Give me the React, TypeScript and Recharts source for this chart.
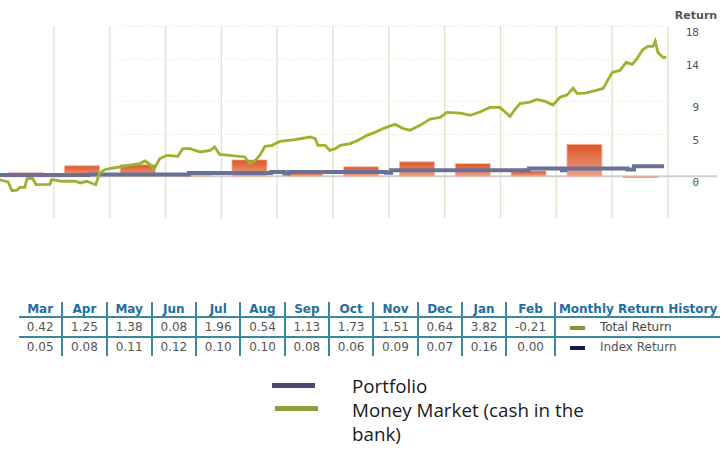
import React from 'react';
import { ComposedChart, Bar, Line, XAxis, YAxis, ReferenceLine, Cell } from 'recharts';

// ---- data -------------------------------------------------------------
const months = ['Mar', 'Apr', 'May', 'Jun', 'Jul', 'Aug', 'Sep', 'Oct', 'Nov', 'Dec', 'Jan', 'Feb'];
const totalReturn = [0.42, 1.25, 1.38, 0.08, 1.96, 0.54, 1.13, 1.73, 1.51, 0.64, 3.82, -0.21];
const indexReturn = [0.05, 0.08, 0.11, 0.12, 0.10, 0.10, 0.08, 0.06, 0.09, 0.07, 0.16, 0.00];
const yTicks = [0, 5, 9, 14, 18];
const dottedLevels = [5, 9, 14, 18];

// green cumulative line: position in months since start, return value
const greenT = [
  0.03, 0.18, 0.25, 0.34, 0.39, 0.48, 0.52, 0.62, 0.68, 0.93, 0.96, 1.05, 1.14, 1.38, 1.47, 1.59, 1.68, 1.75,
  1.82, 1.91, 2.04, 2.18, 2.36, 2.54, 2.63, 2.72, 2.79, 2.90, 3.03, 3.22, 3.31, 3.44, 3.62, 3.80, 3.88, 3.97,
  4.15, 4.42, 4.51, 4.60, 4.69, 4.78, 4.91, 5.05, 5.32, 5.59, 5.68, 5.73, 5.86, 5.94, 6.04, 6.13, 6.31, 6.45,
  6.61, 6.75, 6.93, 7.11, 7.25, 7.38, 7.56, 7.74, 7.92, 8.04, 8.28, 8.46, 8.63, 8.81, 8.99, 9.17, 9.26, 9.35,
  9.53, 9.65, 9.80, 9.94, 10.07, 10.19, 10.30, 10.37, 10.52, 10.73, 10.84, 11.00, 11.14, 11.25, 11.36, 11.44,
  11.55, 11.64, 11.73, 11.77, 11.82, 11.91, 11.97,
];
const greenV = [
  -0.42, -0.68, -1.73, -1.67, -1.32, -1.32, -0.28, -0.24, -0.99, -0.96, -0.39, -0.48, -0.6, -0.6, -0.8, -0.6, -0.84, -1.02,
  0.36, 0.78, 0.96, 1.11, 1.32, 1.52, 1.83, 1.44, 0.84, 2.12, 2.51, 2.39, 3.31, 3.31, 2.91, 3.11, 3.5, 2.63,
  2.51, 2.31, 1.52, 1.83, 2.51, 3.59, 3.71, 4.19, 4.39, 4.7, 4.51, 3.71, 3.71, 3.11, 3.31, 3.71, 3.91, 4.31,
  4.9, 5.26, 5.8, 6.22, 5.74, 5.5, 6.1, 6.85, 7.06, 7.66, 7.57, 7.3, 7.69, 8.25, 8.25, 7.18, 8.01, 8.7,
  8.89, 9.21, 8.97, 8.53, 9.49, 9.72, 10.56, 9.93, 9.96, 10.32, 10.53, 12.44, 12.68, 13.64, 13.4, 14.06,
  15.19, 15.55, 15.55, 16.18, 14.83, 14.23, 14.23,
];

// blue step line
const blueT = [0.03, 1.62, 3.42, 4.89, 5.13, 5.21, 6.95, 7.04, 9.51, 10.1, 10.16, 11.27, 11.39, 11.93];
const blueV = [0.14, 0.22, 0.39, 0.51, 0.32, 0.51, 0.42, 0.72, 0.92, 0.72, 0.92, 0.8, 1.2, 1.2];

const legendItems = ['Portfolio', 'Money Market (cash in the bank)'];

// ---- derived tables ---------------------------------------------------
const barData = months.map((m, i) => ({ month: m, total: totalReturn[i] }));
const greenData = greenT.map((t, i) => ({ t, v: greenV[i] }));
const blueData = blueT.map((t, i) => ({ t, v: blueV[i] }));
const monthBoundaries = months.map((_, i) => i + 1);
const dottedStart = 2.17;
const zeroLineEnd = 12.88;

const ReturnTick = (props: any) => {
  const { x, y, payload } = props;
  return (
    <text x={x + 23} y={y + 6} textAnchor="end" dominantBaseline="central"
      fontFamily="'DejaVu Sans Mono', monospace" fontSize={11} fill="#555">
      {payload.value}
    </text>
  );
};

const teal = '#3b87a0';

export default function App() {
  const cellStyle = (i: number, row: number): React.CSSProperties => ({
    padding: '0 7.8px',
    textAlign: 'center',
    borderLeft: i === 0 ? 'none' : `2px solid ${teal}`,
    borderBottom: row < 2 ? `2px solid ${teal}` : 'none',
    height: row === 0 ? 14 : 18,
    lineHeight: row === 0 ? '14px' : '18px',
    whiteSpace: 'nowrap',
  });
  return (
    <div style={{ position: 'absolute', left: 0, top: 0, width: 727, height: 452, background: '#fff', overflow: 'hidden' }}>
      <div style={{ position: 'absolute', left: 0, top: 0 }}>
        <ComposedChart width={727} height={230} data={barData} barCategoryGap="19%"
          margin={{ top: 26, right: 3, left: -2, bottom: 12 }}>
          <defs>
            <linearGradient id="barGrad" x1="0" y1="0" x2="0" y2="1">
              <stop offset="0%" stopColor="#dc5627" />
              <stop offset="100%" stopColor="#eba089" />
            </linearGradient>
          </defs>
          <XAxis xAxisId="m" dataKey="month" type="category" hide />
          <XAxis xAxisId="t" dataKey="t" type="number" domain={[0, 12]} allowDataOverflow hide />
          <YAxis orientation="right" width={56} domain={[-5, 18]} ticks={yTicks} allowDataOverflow
            axisLine={false} tickLine={false} tick={<ReturnTick />} interval={0}
            label={{ value: 'Return', position: 'top', offset: 7, style: { fontFamily: "'DejaVu Sans', sans-serif", fontWeight: 'bold', fontSize: 11, fill: '#555' } }} />
          {monthBoundaries.map((b) => (
            <ReferenceLine key={'v' + b} xAxisId="t" x={b} stroke="#e5e5cf" strokeWidth={1.5} zIndex={-1} />
          ))}
          {dottedLevels.map((lv) => (
            <ReferenceLine key={'h' + lv} xAxisId="t" segment={[{ x: dottedStart, y: lv }, { x: 12, y: lv }]}
              stroke="#dfe2c4" strokeWidth={1} strokeDasharray="1 2" zIndex={-1} />
          ))}
          <ReferenceLine xAxisId="t" segment={[{ x: 0, y: 0 }, { x: zeroLineEnd, y: 0 }]} ifOverflow="visible"
            stroke="#cfcfcf" strokeWidth={2} zIndex={-1} />
          <Bar xAxisId="m" dataKey="total" isAnimationActive={false} stroke="#f2b7a2" strokeWidth={0.8}>
            {barData.map((d, i) => (
              <Cell key={i} fill={d.total < 0 ? '#f0a58e' : 'url(#barGrad)'} stroke={d.total < 0 ? 'none' : '#f2b7a2'} />
            ))}
          </Bar>
          <Line xAxisId="t" data={blueData} dataKey="v" type="stepAfter" stroke="#6b7196" strokeWidth={4}
            dot={false} isAnimationActive={false} />
          <Line xAxisId="t" data={greenData} dataKey="v" type="linear" stroke="#9bb22c" strokeWidth={2.8}
            dot={false} isAnimationActive={false} />
        </ComposedChart>
      </div>

      <table style={{ position: 'absolute', left: 19, top: 302, borderCollapse: 'separate', borderSpacing: 0,
        fontFamily: "'DejaVu Sans', Verdana, sans-serif", fontSize: 12 }}>
        <tbody>
          <tr>
            {months.map((m, i) => (
              <td key={m} style={{ ...cellStyle(i, 0), color: '#236e9e', fontWeight: 'bold' }}>{m}</td>
            ))}
            <td style={{ ...cellStyle(1, 0), padding: '0 3px', color: '#236e9e', fontWeight: 'bold' }}>Monthly Return History</td>
          </tr>
          <tr>
            {totalReturn.map((v, i) => (
              <td key={i} style={{ ...cellStyle(i, 1), color: '#555' }}>{v.toFixed(2)}</td>
            ))}
            <td style={{ ...cellStyle(1, 1), padding: '0 3px', color: '#444', textAlign: 'left' }}>
              <span style={{ display: 'inline-block', width: 15, height: 4, background: '#7d9a3a', marginLeft: 11, marginRight: 15, verticalAlign: 'middle' }} />
              Total Return
            </td>
          </tr>
          <tr>
            {indexReturn.map((v, i) => (
              <td key={i} style={{ ...cellStyle(i, 2), color: '#555' }}>{v.toFixed(2)}</td>
            ))}
            <td style={{ ...cellStyle(1, 2), padding: '0 3px', color: '#555', textAlign: 'left' }}>
              <span style={{ display: 'inline-block', width: 15, height: 4, background: '#1c1450', marginLeft: 11, marginRight: 15, verticalAlign: 'middle' }} />
              Index Return
            </td>
          </tr>
        </tbody>
      </table>

      <div style={{ position: 'absolute', left: 272, top: 383, width: 43, height: 5, background: '#4a4972' }} />
      <div style={{ position: 'absolute', left: 275, top: 406, width: 43, height: 5, background: '#8d9e3d' }} />
      <div style={{ position: 'absolute', left: 352, top: 374, width: 255, fontFamily: "'Open Sans', sans-serif",
        fontSize: 18.8, lineHeight: '24px', color: '#1a1a1a' }}>
        <div>{legendItems[0]}</div>
        <div>{legendItems[1]}</div>
      </div>
    </div>
  );
}
